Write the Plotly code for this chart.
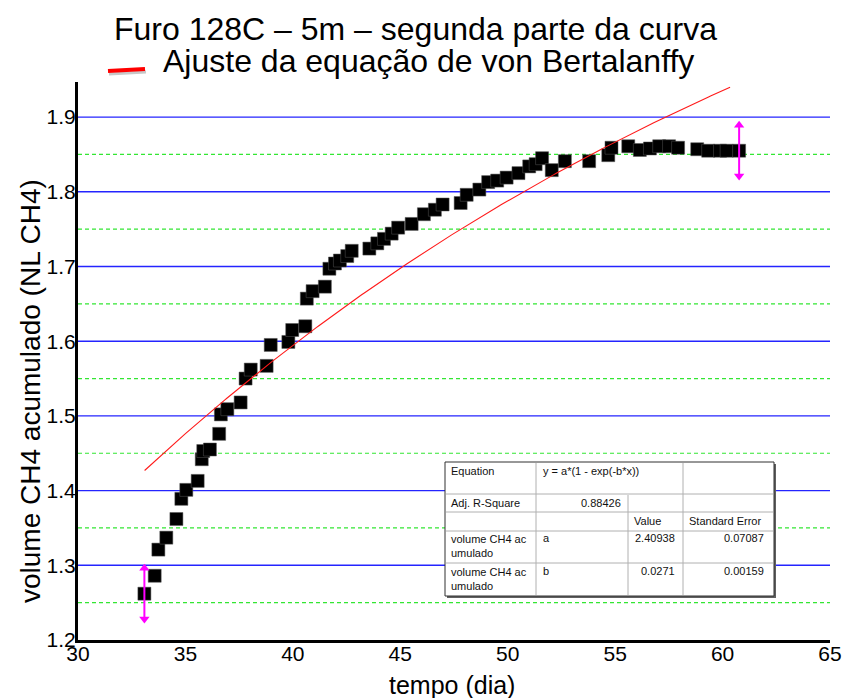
import numpy as np
import plotly.graph_objects as go

# Measured cumulative CH4 volume (second part of the curve)
tempo_dia = [33.09, 33.57, 33.74, 34.11, 34.58, 34.81, 35.04, 35.57, 35.76, 35.83,
             36.14, 36.57, 36.65, 36.95, 37.57, 37.80, 38.04, 38.78, 38.97, 39.79,
             39.97, 40.58, 40.65, 40.92, 41.49, 41.70, 41.96, 42.19, 42.53, 42.74,
             43.56, 43.93, 44.24, 44.60, 44.90, 45.53, 46.10, 46.61, 46.97, 47.81,
             48.09, 48.68, 49.09, 49.51, 49.95, 50.50, 51.00, 51.30, 51.60, 52.05,
             52.66, 53.79, 54.68, 54.83, 55.61, 56.15, 56.62, 57.05, 57.51, 57.93,
             58.82, 59.33, 59.88, 60.19, 60.77]
volume_ch4 = [1.262, 1.286, 1.321, 1.337, 1.362, 1.389, 1.401, 1.413, 1.442, 1.453,
              1.455, 1.476, 1.502, 1.509, 1.518, 1.550, 1.562, 1.567, 1.595, 1.599,
              1.615, 1.620, 1.657, 1.667, 1.673, 1.697, 1.704, 1.708, 1.714, 1.721,
              1.724, 1.731, 1.737, 1.744, 1.752, 1.757, 1.770, 1.776, 1.783, 1.785,
              1.796, 1.803, 1.813, 1.815, 1.819, 1.825, 1.834, 1.837, 1.845, 1.829,
              1.841, 1.841, 1.849, 1.859, 1.861, 1.856, 1.858, 1.861, 1.861, 1.859,
              1.857, 1.855, 1.855, 1.855, 1.855]

# von Bertalanffy fit parameters (y = a*(1 - exp(-b*x)))
fit_a = 2.40938
fit_b = 0.0271
fit_a_err = 0.07087
fit_b_err = 0.00159
adj_r2 = 0.88426
fit_x_start, fit_x_end = 33.1, 60.35

x_ticks = [30, 35, 40, 45, 50, 55, 60, 65]
y_major_grid = [1.3, 1.4, 1.5, 1.6, 1.7, 1.8, 1.9]
y_minor_grid = [1.25, 1.35, 1.45, 1.55, 1.65, 1.75, 1.85]

FONT = "Arial, Liberation Sans, sans-serif"

# plot area in pixels (for layout helpers)
L, R, T, B = 78, 830, 82, 640


def px(xp):
    return (xp - L) / (R - L)


def py(yp):
    return (B - yp) / (B - T)


fit_x = np.linspace(fit_x_start, fit_x_end, 300)
fit_y = fit_a * (1 - np.exp(-fit_b * fit_x))

fig = go.Figure()

fig.add_trace(go.Scatter(
    x=tempo_dia, y=volume_ch4, mode="markers",
    marker=dict(symbol="square", size=13, color="black",
                line=dict(color="#555555", width=0.5)),
    showlegend=False, hoverinfo="x+y"))

fig.add_trace(go.Scatter(
    x=fit_x, y=fit_y, mode="lines",
    line=dict(color="#ff1a1a", width=1.1),
    showlegend=False))

# data-range markers at the first and last point
half = 0.034
for xi, yi in [(tempo_dia[0], volume_ch4[0]), (tempo_dia[-1], volume_ch4[-1])]:
    fig.add_trace(go.Scatter(
        x=[xi, xi], y=[yi - half, yi + half], mode="lines+markers",
        line=dict(color="#ff00ff", width=2),
        marker=dict(symbol=["triangle-down", "triangle-up"], size=9,
                    color="#ff00ff"),
        showlegend=False, hoverinfo="skip"))

shapes = []
annotations = []

# horizontal grid: solid blue major, dashed green minor
for gy in y_major_grid:
    shapes.append(dict(type="line", xref="paper", yref="y", layer="below",
                       x0=0, x1=1, y0=gy, y1=gy,
                       line=dict(color="#2424ff", width=1.4)))
for gy in y_minor_grid:
    shapes.append(dict(type="line", xref="paper", yref="y", layer="below",
                       x0=0, x1=1, y0=gy, y1=gy,
                       line=dict(color="#33e633", width=1.2, dash="4px,3px")))

# title lines with the fit legend swatch
annotations.append(dict(text="Furo 128C – 5m – segunda parte da curva",
                        x=px(415), y=py(29), xref="paper", yref="paper",
                        showarrow=False, xanchor="center", yanchor="middle",
                        font=dict(family=FONT, size=32, color="black")))
annotations.append(dict(text="Ajuste da equação de von Bertalanffy",
                        x=px(428), y=py(61), xref="paper", yref="paper",
                        showarrow=False, xanchor="center", yanchor="middle",
                        font=dict(family=FONT, size=32, color="black")))
shapes.append(dict(type="line", xref="paper", yref="paper",
                   x0=px(109), y0=py(74), x1=px(146), y1=py(72),
                   line=dict(color="#c8c8c8", width=3)))
shapes.append(dict(type="line", xref="paper", yref="paper",
                   x0=px(108), y0=py(71), x1=px(145), y1=py(69),
                   line=dict(color="#ff0000", width=4)))

# results table
tx0, tx1, ty0, ty1 = 445, 774, 462, 596
c1, c2, c3 = 536, 628, 683
r1, r2, r3, r4 = 494, 512, 531, 563

shapes.append(dict(type="rect", xref="paper", yref="paper",
                   x0=px(tx0 + 2), x1=px(tx1 + 2), y0=py(ty1 + 2), y1=py(ty0 + 2),
                   fillcolor="#606060", line=dict(width=0)))
shapes.append(dict(type="rect", xref="paper", yref="paper",
                   x0=px(tx0), x1=px(tx1), y0=py(ty1), y1=py(ty0),
                   fillcolor="white", line=dict(color="#303030", width=1)))
grid_color = "#b0b0b0"
for yy in [r1, r2, r3, r4]:
    shapes.append(dict(type="line", xref="paper", yref="paper",
                       x0=px(tx0 + 1), x1=px(tx1 - 1), y0=py(yy), y1=py(yy),
                       line=dict(color=grid_color, width=1)))
for xx, ytop in [(c1, ty0), (c2, r1), (c3, ty0)]:
    shapes.append(dict(type="line", xref="paper", yref="paper",
                       x0=px(xx), x1=px(xx), y0=py(ytop + 1), y1=py(ty1 - 1),
                       line=dict(color=grid_color, width=1)))

cell_font = dict(family=FONT, size=11, color="#111111")


def cell(text, xp, yp, anchor="left"):
    annotations.append(dict(text=text, x=px(xp), y=py(yp), xref="paper",
                            yref="paper", showarrow=False, xanchor=anchor,
                            yanchor="middle", font=cell_font, align=anchor))


cell("Equation", tx0 + 4, 471)
cell("y = a*(1 - exp(-b*x))", c1 + 5, 471)
cell("Adj. R-Square", tx0 + 4, 503)
cell(f"{adj_r2:.5f}", c2 - 5, 503, "right")
cell("Value", c2 + 4, 521)
cell("Standard Error", c3 + 4, 521)
cell("volume CH4 ac<br>umulado", tx0 + 4, 546)
cell("a", c1 + 5, 538)
cell(f"{fit_a:.5f}", c3 - 6, 538, "right")
cell(f"{fit_a_err:.5f}", tx1 - 8, 538, "right")
cell("volume CH4 ac<br>umulado", tx0 + 4, 579)
cell("b", c1 + 5, 571)
cell(f"{fit_b:g}", c3 - 6, 571, "right")
cell(f"{fit_b_err:.5f}", tx1 - 8, 571, "right")

# axis titles
annotations.append(dict(text="volume CH4 acumulado (NL CH4)", textangle=-90,
                        x=px(30), y=py(391), xref="paper", yref="paper",
                        showarrow=False, xanchor="center", yanchor="middle",
                        font=dict(family=FONT, size=28, color="black")))
annotations.append(dict(text="tempo (dia)",
                        x=px(452), y=py(685), xref="paper", yref="paper",
                        showarrow=False, xanchor="center", yanchor="middle",
                        font=dict(family=FONT, size=25, color="black")))

fig.update_layout(
    width=845, height=698,
    margin=dict(l=L, r=845 - R, t=T, b=698 - B, autoexpand=False),
    paper_bgcolor="white", plot_bgcolor="white",
    shapes=shapes, annotations=annotations,
    xaxis=dict(range=[30, 65], tickvals=x_ticks, showgrid=False,
               zeroline=False, showline=True, linecolor="black", linewidth=3,
               ticks="", automargin=False, ticklabelstandoff=-7,
               tickfont=dict(family=FONT, size=21, color="black")),
    yaxis=dict(range=[1.2, 1.947], tick0=1.2, dtick=0.1, tickformat=".1f",
               showgrid=False,
               zeroline=False, showline=True, linecolor="black", linewidth=3,
               ticks="", automargin=False, ticklabelstandoff=-5,
               tickfont=dict(family=FONT, size=21, color="black")),
    showlegend=False,
)

fig.write_html("out.html")
